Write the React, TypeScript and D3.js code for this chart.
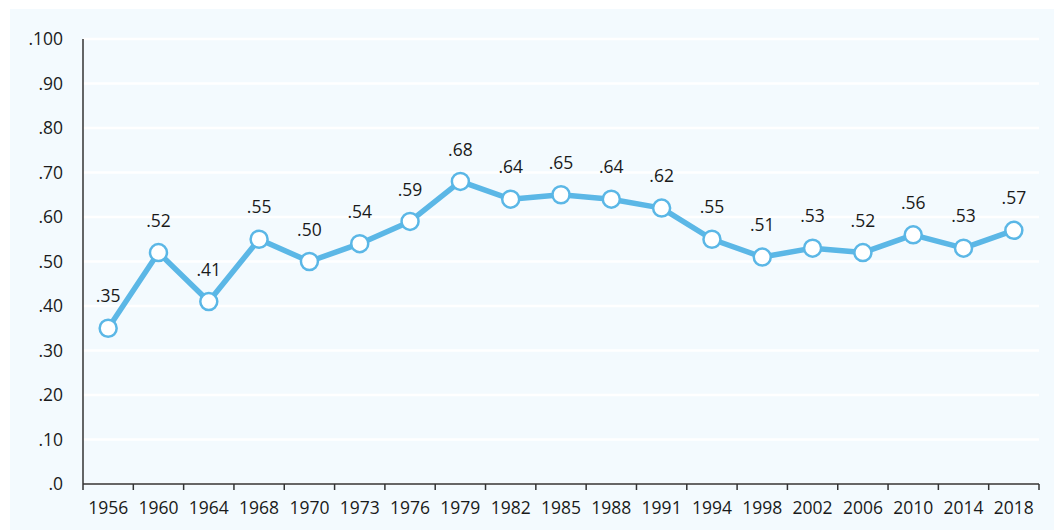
import { useMemo } from 'react';
import * as d3 from 'd3';

const years = ['1956', '1960', '1964', '1968', '1970', '1973', '1976', '1979', '1982', '1985', '1988', '1991', '1994', '1998', '2002', '2006', '2010', '2014', '2018'];
const values = [0.35, 0.52, 0.41, 0.55, 0.50, 0.54, 0.59, 0.68, 0.64, 0.65, 0.64, 0.62, 0.55, 0.51, 0.53, 0.52, 0.56, 0.53, 0.57];
const yTickValues = [0, 0.1, 0.2, 0.3, 0.4, 0.5, 0.6, 0.7, 0.8, 0.9, 1.0];
const yTickLabels = ['.0', '.10', '.20', '.30', '.40', '.50', '.60', '.70', '.80', '.90', '.100'];

const fmt = (v: number) => '.' + Math.round(v * 100).toString().padStart(2, '0');

const W = 1054;
const H = 530;
const left = 83;
const right = 1039;
const top = 39;
const bottom = 484;
const blue = '#5bb7e6';
const font = "'Open Sans', 'Noto Sans', sans-serif";

const App = () => {
  const xScale = useMemo(() => d3.scaleBand<string>().domain(years).range([left, right]), []);
  const yScale = useMemo(() => d3.scaleLinear().domain([0, 1]).range([bottom, top]), []);

  const linePath = useMemo(() => {
    const gen = d3.line<number>()
      .x((_, i) => (xScale(years[i]) ?? 0) + xScale.bandwidth() / 2)
      .y(d => yScale(d));
    return gen(values) || undefined;
  }, [xScale, yScale]);

  // tick marks sit on band boundaries
  const boundaries = [...years.map(y => xScale(y) ?? 0), right];

  return (
    <svg width={W} height={H} style={{ position: 'absolute', left: 0, top: 0 }}>
      <rect x={10} y={9} width={W - 10} height={H - 9} fill="#f3fafe" />

      {/* grid */}
      {yTickValues.map(v => (
        <line key={v} x1={left} x2={right} y1={yScale(v)} y2={yScale(v)} stroke="#ffffff" strokeWidth={2.5} />
      ))}

      {/* y axis */}
      <line x1={left} x2={left} y1={top} y2={bottom} stroke="#333" strokeWidth={1.5} />
      {yTickValues.map((v, i) => (
        <text key={v} x={63} y={yScale(v)} dy="0.35em" textAnchor="end" fontFamily={font} fontSize={17.5} fill="#1a1a1a">
          {yTickLabels[i]}
        </text>
      ))}

      {/* x axis */}
      <line x1={left} x2={right} y1={bottom} y2={bottom} stroke="#333" strokeWidth={1.5} />
      {boundaries.map((b, i) => (
        <line key={i} x1={b} x2={b} y1={bottom} y2={bottom + 6} stroke="#333" strokeWidth={1.5} />
      ))}
      {years.map(y => (
        <text key={y} x={(xScale(y) ?? 0) + xScale.bandwidth() / 2} y={508} dy="0.35em" textAnchor="middle" fontFamily={font} fontSize={17.5} fill="#1a1a1a">
          {y}
        </text>
      ))}

      {/* series */}
      <path d={linePath} fill="none" stroke={blue} strokeWidth={5.5} strokeLinejoin="round" />
      {values.map((v, i) => {
        const cx = (xScale(years[i]) ?? 0) + xScale.bandwidth() / 2;
        const cy = yScale(v);
        return (
          <g key={i}>
            <circle cx={cx} cy={cy} r={8.5} fill="#ffffff" stroke={blue} strokeWidth={2.5} />
            <text x={cx} y={cy - 32} dy="0.35em" textAnchor="middle" fontFamily={font} fontSize={17.5} fill="#1a1a1a">
              {fmt(v)}
            </text>
          </g>
        );
      })}
    </svg>
  );
};

export default App;
